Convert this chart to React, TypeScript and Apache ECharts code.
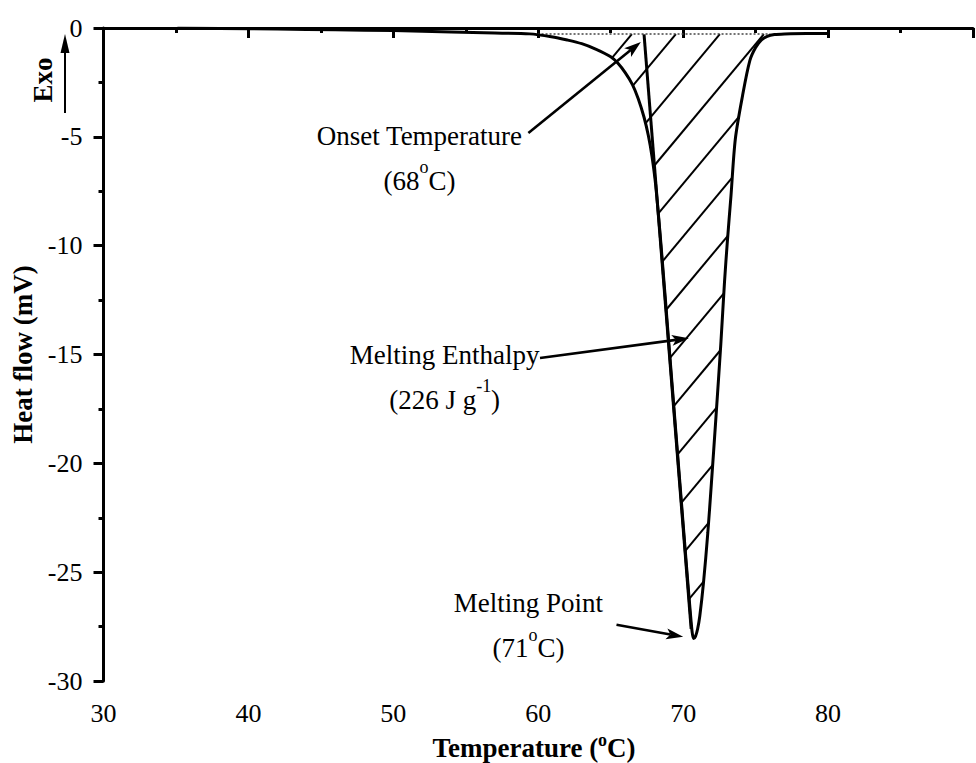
import React, { useEffect, useRef } from 'react';
import * as echarts from 'echarts';

const FONT = "'Times New Roman', 'Liberation Serif', 'DejaVu Serif', serif";

// DSC curve: temperature (°C) and heat flow (mV)
const curveT = [35.1, 38, 42, 46, 50, 54, 57, 59.4, 60.9, 62, 63, 64, 65, 65.5, 66, 66.5, 66.9, 67.3, 67.6, 67.85, 68.1, 68.5, 69.0, 69.5, 70.0, 70.3, 70.5, 70.62, 70.72, 70.85, 71.0, 71.15, 71.4, 71.7, 71.95, 72.25, 72.6, 72.85, 73.05, 73.3, 73.6, 74.1, 74.6, 75.0, 75.4, 75.8, 76.3, 77, 78.5, 80];
const curveV = [0, -0.02, -0.05, -0.08, -0.12, -0.18, -0.23, -0.27, -0.4, -0.55, -0.72, -0.98, -1.32, -1.62, -2.05, -2.6, -3.25, -4.1, -4.95, -5.9, -7.2, -10.2, -14.4, -18.6, -22.8, -25.3, -26.9, -27.75, -28.05, -27.95, -27.6, -27.0, -25.5, -23.2, -20.9, -18.0, -14.5, -11.7, -9.8, -7.7, -5.1, -3.1, -1.5, -0.9, -0.55, -0.38, -0.3, -0.27, -0.25, -0.25];

// integration baseline (dotted)
const baselineT = [59.4, 76.0];
const baselineV = [-0.28, -0.28];

// onset tangent line
const tangentT = [67.3, 70.55];
const tangentV = [-0.29, -27.6];

// annotation arrows: from -> to
const arrowFromT = [59.32, 60.12, 65.4];
const arrowFromV = [-4.82, -15.16, -27.42];
const arrowToT = [67.08, 70.39, 70.0];
const arrowToV = [-0.64, -14.25, -27.97];

// annotation texts
const annotT = [51.8, 53.54, 59.32];
const annotV = [-5.99, -16.05, -27.47];
const annotText = [
  'Onset Temperature\n(68{sup|o}C)',
  'Melting Enthalpy\n(226 J g{sup|-1})',
  'Melting Point\n(71{sup|o}C)',
];

// axes
const xMin = 30;
const xMax = 90;
const xStep = 10;
const xLastLabel = 80;
const yMin = -30;
const yMax = 0;
const yStep = 5;

const HATCH_START_T = 66.46;
const HATCH_STEP = 44;
const HATCH_SLOPE = 1.2;

const supRich = {
  sup: { fontSize: 18, fontFamily: FONT, lineHeight: 26, verticalAlign: 'top', fill: '#000', color: '#000' },
};

function hatchRenderItem(params: any, api: any) {
  const poly: number[][] = [api.coord([baselineT[0], baselineV[0]])];
  for (let i = 0; i < curveT.length; i++) {
    if (curveT[i] > baselineT[0] && curveT[i] < baselineT[1]) {
      poly.push(api.coord([curveT[i], Math.min(curveV[i], baselineV[0])]));
    }
  }
  poly.push(api.coord([baselineT[1], baselineV[1]]));
  const yb = poly[0][1];
  const x0 = api.coord([HATCH_START_T, baselineV[0]])[0];
  const children: any[] = [];
  for (let k = 0; k <= 100; k++) {
    const xk = x0 + k * HATCH_STEP;
    const f = (p: number[]) => (p[0] - xk) + (p[1] - yb) / HATCH_SLOPE;
    const ys: number[] = [];
    for (let i = 0; i < poly.length; i++) {
      const a = poly[i];
      const b = poly[(i + 1) % poly.length];
      const fa = f(a);
      const fb = f(b);
      if ((fa < 0 && fb >= 0) || (fa >= 0 && fb < 0)) {
        const u = fa / (fa - fb);
        ys.push(a[1] + u * (b[1] - a[1]));
      }
    }
    ys.sort((p, q) => p - q);
    for (let j = 0; j + 1 < ys.length; j += 2) {
      const yA = ys[j];
      const yB = ys[j + 1];
      children.push({
        type: 'line',
        shape: {
          x1: xk - (yA - yb) / HATCH_SLOPE,
          y1: yA,
          x2: xk - (yB - yb) / HATCH_SLOPE,
          y2: yB,
        },
        style: { stroke: '#000', lineWidth: 2 },
      });
    }
  }
  return { type: 'group', children };
}

function arrowRenderItem(params: any, api: any) {
  const p0 = api.coord([api.value(0), api.value(1)]);
  const p1 = api.coord([api.value(2), api.value(3)]);
  const dx = p1[0] - p0[0];
  const dy = p1[1] - p0[1];
  const len = Math.sqrt(dx * dx + dy * dy);
  const ux = dx / len;
  const uy = dy / len;
  const headL = 17;
  const headW = 5.5;
  const notch = 13;
  const bx = p1[0] - ux * headL;
  const by = p1[1] - uy * headL;
  const nx = p1[0] - ux * notch;
  const ny = p1[1] - uy * notch;
  return {
    type: 'group',
    children: [
      {
        type: 'line',
        shape: { x1: p0[0], y1: p0[1], x2: nx, y2: ny },
        style: { stroke: '#000', lineWidth: 2.6 },
      },
      {
        type: 'polygon',
        shape: {
          points: [
            [p1[0], p1[1]],
            [bx - uy * headW, by + ux * headW],
            [nx, ny],
            [bx + uy * headW, by - ux * headW],
          ],
        },
        style: { fill: '#000' },
      },
    ],
  };
}

function textRenderItem(params: any, api: any) {
  const p = api.coord([api.value(0), api.value(1)]);
  const idx = api.value(2);
  return {
    type: 'text',
    x: p[0],
    y: p[1],
    style: {
      text: annotText[idx],
      fill: '#000',
      fontSize: 27,
      fontFamily: FONT,
      lineHeight: 45,
      align: 'center',
      verticalAlign: 'middle',
      rich: supRich,
    },
  };
}

export default function App() {
  const ref = useRef<HTMLDivElement>(null);
  useEffect(() => {
    if (!ref.current) return;
    const chart = echarts.init(ref.current, null, { renderer: 'svg' });
    const option: any = {
      animation: false,
      backgroundColor: '#ffffff',
      grid: { left: 103.5, top: 28, right: -93.5, bottom: 82, containLabel: false },
      xAxis: {
        type: 'value',
        min: xMin,
        max: xMax,
        interval: xStep,
        axisLine: { lineStyle: { color: '#000', width: 3 } },
        axisTick: { length: 10, lineStyle: { color: '#000', width: 3 } },
        minorTick: { show: true, splitNumber: 2, length: 5, lineStyle: { color: '#000', width: 3 } },
        splitLine: { show: false },
        minorSplitLine: { show: false },
        axisLabel: {
          margin: 19,
          fontSize: 26,
          fontFamily: FONT,
          color: '#000',
          formatter: (v: number) => (v <= xLastLabel ? String(v) : ''),
        },
      },
      yAxis: {
        type: 'value',
        min: yMin,
        max: yMax,
        interval: yStep,
        axisLine: { show: true, lineStyle: { color: '#000', width: 3 } },
        axisTick: { show: true, length: 10, lineStyle: { color: '#000', width: 3 } },
        minorTick: { show: true, splitNumber: 2, length: 5, lineStyle: { color: '#000', width: 3 } },
        splitLine: { show: false },
        axisLabel: { margin: 21, fontSize: 26, fontFamily: FONT, color: '#000' },
        name: 'Heat flow (mV)',
        nameLocation: 'middle',
        nameGap: 65,
        nameTextStyle: { fontSize: 27, fontWeight: 'bold', fontFamily: FONT, color: '#000' },
      },
      graphic: [
        {
          type: 'text',
          x: 534,
          y: 748,
          style: {
            text: 'Temperature ({sup|o}C)',
            fill: '#000',
            fontSize: 27,
            fontWeight: 'bold',
            fontFamily: FONT,
            align: 'center',
            verticalAlign: 'middle',
            lineHeight: 34,
            rich: {
              sup: { fontSize: 18, fontWeight: 'bold', fontFamily: FONT, lineHeight: 20, verticalAlign: 'top' },
            },
          },
        },
        {
          type: 'text',
          x: 43,
          y: 80,
          rotation: Math.PI / 2,
          style: {
            text: 'Exo',
            fill: '#000',
            fontSize: 27,
            fontWeight: 'bold',
            fontFamily: FONT,
            align: 'center',
            verticalAlign: 'middle',
          },
        },
        {
          type: 'line',
          shape: { x1: 65, y1: 113, x2: 65, y2: 48 },
          style: { stroke: '#000', lineWidth: 2 },
        },
        {
          type: 'polygon',
          shape: { points: [[65, 34], [60.5, 53], [69.5, 53]] },
          style: { fill: '#000' },
        },
      ],
      series: [
        {
          type: 'custom',
          renderItem: hatchRenderItem,
          data: [[70, -10]],
          clip: false,
          silent: true,
          z: 1,
        },
        {
          type: 'line',
          data: baselineT.map((t, i) => [t, baselineV[i]]),
          symbol: 'none',
          lineStyle: { color: '#444', width: 1.5, type: [2, 2] },
          z: 2,
          silent: true,
        },
        {
          type: 'line',
          data: tangentT.map((t, i) => [t, tangentV[i]]),
          symbol: 'none',
          lineStyle: { color: '#000', width: 3 },
          z: 3,
          silent: true,
        },
        {
          type: 'line',
          data: curveT.map((t, i) => [t, curveV[i]]),
          symbol: 'none',
          smooth: 0.3,
          lineStyle: { color: '#000', width: 3 },
          z: 4,
          silent: true,
        },
        {
          type: 'custom',
          renderItem: arrowRenderItem,
          data: arrowFromT.map((t, i) => [t, arrowFromV[i], arrowToT[i], arrowToV[i]]),
          encode: { x: [0, 2], y: [1, 3] },
          clip: false,
          silent: true,
          z: 5,
        },
        {
          type: 'custom',
          renderItem: textRenderItem,
          data: annotT.map((t, i) => [t, annotV[i], i]),
          encode: { x: 0, y: 1 },
          clip: false,
          silent: true,
          z: 6,
        },
      ],
    };
    chart.setOption(option);
    return () => chart.dispose();
  }, []);
  return (
    <div
      ref={ref}
      style={{ position: 'fixed', left: 0, top: 0, width: 976, height: 763, background: '#fff' }}
    />
  );
}
